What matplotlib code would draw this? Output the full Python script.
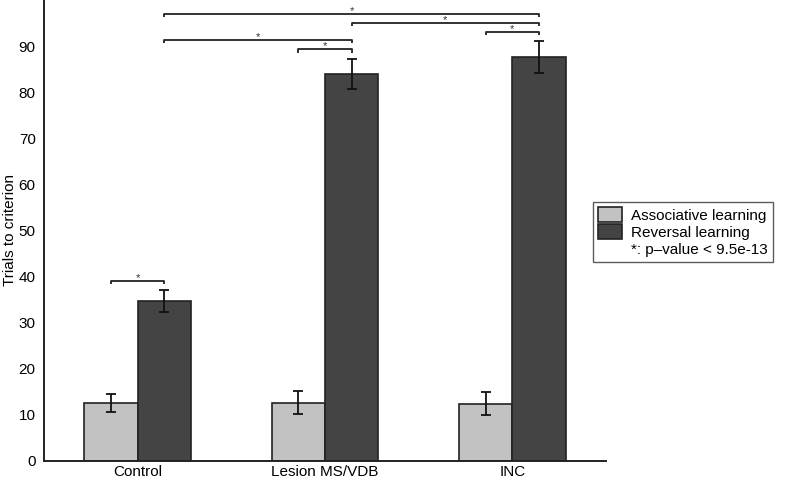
import matplotlib.pyplot as plt
import matplotlib.patches as mpatches
import numpy as np

plt.rcParams['font.family'] = ['Liberation Sans', 'DejaVu Sans']

groups = ['Control', 'Lesion MS/VDB', 'INC']
assoc = [12.6, 12.6, 12.4]
assoc_err = [1.9, 2.5, 2.5]
reversal = [34.7, 84.0, 87.6]
reversal_err = [2.4, 3.3, 3.4]

# significance brackets: (group_a, series_a, group_b, series_b, height)
brackets = [
    (0, 0, 0, 1, 39.0),
    (1, 0, 1, 1, 89.3),
    (0, 1, 1, 1, 91.3),
    (2, 0, 2, 1, 93.0),
    (1, 1, 2, 1, 95.0),
    (0, 1, 2, 1, 97.0),
]

fig = plt.figure(figsize=(7.92, 4.82), dpi=100)
ax = fig.add_axes([0.0556, 0.0436, 0.7096, 0.9564])

x = np.arange(len(groups))
w = 0.285
off = [-w / 2, w / 2]

ax.bar(x - w / 2, assoc, w, color='#c2c2c2', edgecolor='#222222', linewidth=1.2, zorder=2)
ax.bar(x + w / 2, reversal, w, color='#444444', edgecolor='#222222', linewidth=1.2, zorder=2)
ax.errorbar(x - w / 2, assoc, yerr=assoc_err, fmt='none', ecolor='#111111',
            elinewidth=1.3, capsize=3.5, capthick=1.3, zorder=3)
ax.errorbar(x + w / 2, reversal, yerr=reversal_err, fmt='none', ecolor='#111111',
            elinewidth=1.3, capsize=3.5, capthick=1.3, zorder=3)

for ga, sa, gb, sb, h in brackets:
    xa = x[ga] + off[sa]
    xb = x[gb] + off[sb]
    ax.plot([xa, xa, xb, xb], [h - 0.7, h, h, h - 0.7], color='#222222', lw=1.3,
            solid_capstyle='butt')
    ax.text((xa + xb) / 2, h - 0.4, '*', ha='center', va='bottom', fontsize=8, color='#333333')

ax.set_xlim(-0.5, 2.5)
ax.set_ylim(0, 100)
ax.set_xticks(x)
ax.set_xticklabels(groups, fontsize=11)
ax.set_yticks(range(0, 100, 10))
ax.tick_params(axis='both', length=0, labelsize=11)
ax.tick_params(axis='x', pad=3)
ax.tick_params(axis='y', pad=6)
ax.set_ylabel('Trials to criterion', fontsize=11, labelpad=1)
for s in ['top', 'right']:
    ax.spines[s].set_visible(False)
for s in ['left', 'bottom']:
    ax.spines[s].set_linewidth(1.4)
    ax.spines[s].set_color('#222222')

handles = [
    mpatches.Patch(facecolor='#c2c2c2', edgecolor='#222222', linewidth=1.2),
    mpatches.Patch(facecolor='#444444', edgecolor='#222222', linewidth=1.2),
    mpatches.Patch(facecolor='none', edgecolor='none'),
]
labels = ['Associative learning', 'Reversal learning', '*: p\u2013value < 9.5e-13']
leg = fig.legend(handles, labels, loc='upper left', bbox_to_anchor=(0.749, 0.580),
                 fontsize=11, frameon=True, fancybox=False, edgecolor='#333333',
                 handlelength=1.6, handleheight=1.1, handletextpad=0.6,
                 labelspacing=0.12, borderpad=0.3, borderaxespad=0)
leg.get_frame().set_linewidth(1.0)

fig.savefig('out.png', dpi=100)
